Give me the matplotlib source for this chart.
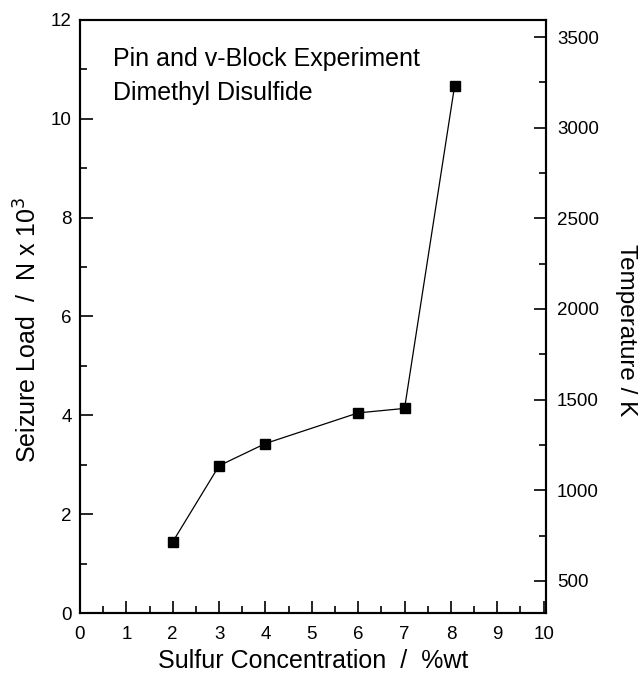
import numpy as np
import matplotlib.pyplot as plt
from matplotlib.ticker import MultipleLocator

plt.rcParams['font.family'] = ['Liberation Sans', 'DejaVu Sans']

# data
sulfur_wt = [2, 3, 4, 6, 7, 8.08]
seizure_load = [1.44, 2.98, 3.43, 4.05, 4.14, 10.67]

fig = plt.figure(figsize=(6.43, 6.77), dpi=100)
ax = fig.add_axes([0.1244, 0.0945, 0.7247, 0.876])

ax.plot(sulfur_wt, seizure_load, color='black', lw=0.9, marker='s',
        markersize=7, markerfacecolor='black', markeredgecolor='black')

ax.set_xlim(0, 10.05)
ax.set_ylim(0, 12)
ax.xaxis.set_major_locator(MultipleLocator(1))
ax.xaxis.set_minor_locator(MultipleLocator(0.5))
ax.yaxis.set_major_locator(MultipleLocator(2))
ax.yaxis.set_minor_locator(MultipleLocator(1))
ax.tick_params(which='both', direction='in', width=1.2, labelsize=13.5)
ax.tick_params(axis='x', pad=9)
ax.tick_params(axis='y', pad=6)
ax.tick_params(which='major', length=9)
ax.tick_params(which='minor', length=5)
ax.tick_params(axis='y', right=False)
ax.tick_params(axis='x', top=False)

for s in ax.spines.values():
    s.set_linewidth(1.5)

ax.set_xlabel('Sulfur Concentration  /  %wt', fontsize=18, labelpad=5)
ax.set_ylabel(r'Seizure Load  /  N x 10$^3$', fontsize=18)
ax.yaxis.set_label_coords(-0.0815, 0.477)

ax.text(0.0708, 0.9225, 'Pin and v-Block Experiment', transform=ax.transAxes,
        fontsize=18, va='baseline')
ax.text(0.0708, 0.865, 'Dimethyl Disulfide', transform=ax.transAxes,
        fontsize=18, va='baseline')

# right axis: temperature scale
ax2 = ax.twinx()
ax2.set_ylim(323, 3594)
ax2.yaxis.set_major_locator(MultipleLocator(500))
ax2.yaxis.set_minor_locator(MultipleLocator(250))
ax2.tick_params(which='both', direction='in', width=1.2, labelsize=13.5, pad=8)
ax2.tick_params(which='major', length=9)
ax2.tick_params(which='minor', length=5)
for s in ax2.spines.values():
    s.set_linewidth(1.5)
ax2.set_ylabel('Temperature / K', fontsize=17.5, rotation=270, va='bottom')
ax2.yaxis.set_label_coords(1.148, 0.477)

fig.savefig('out.png', dpi=100)
